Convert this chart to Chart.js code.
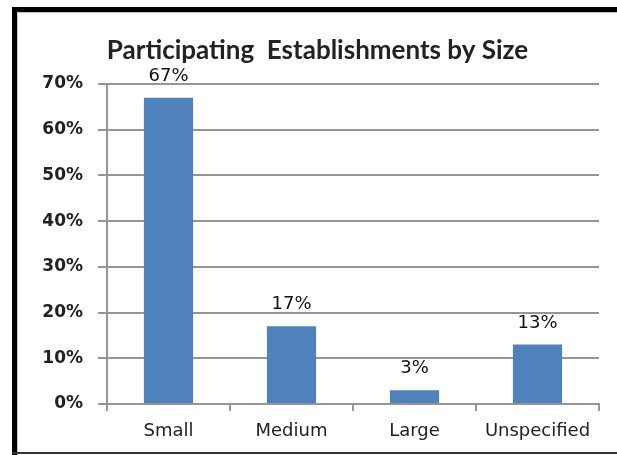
<!DOCTYPE html>
<html>
<head>
<meta charset="utf-8">
<script src="https://cdn.jsdelivr.net/npm/chart.js@4"></script>
<style>
  html, body { margin: 0; padding: 0; background: #fff; }
  #wrap { position: relative; width: 617px; height: 455px; overflow: hidden; }
  #myChart { position: absolute; left: 0; top: 0; }
  .edge { position: absolute; }
</style>
</head>
<body>
<div id="wrap">
  <canvas id="myChart" width="617" height="455"></canvas>
  <!-- frame around the chart -->
  <div class="edge" style="left:12px; top:7px; width:605px; height:5px; background:#000;"></div>
  <div class="edge" style="left:12px; top:7px; width:5px; height:448px; background:#000;"></div>
  <div class="edge" style="left:17px; top:12px; width:1px; height:443px; background:#c8c8c8;"></div>
  <div class="edge" style="left:17px; top:12px; width:600px; height:1px; background:#c8c8c8;"></div>
  <div class="edge" style="left:12px; top:452px; width:605px; height:2px; background:#333;"></div>
</div>
<script>
const sizes = ['Small', 'Medium', 'Large', 'Unspecified'];
const shares = [67, 17, 3, 13];          // percent of establishments
const yTicks = [0, 10, 20, 30, 40, 50, 60, 70];

const ctx = document.getElementById('myChart');
const gridGray = '#959595';

// writes the percentage above each bar
const barLabels = {
    id: 'barLabels',
    afterDatasetsDraw(chart) {
        const c = chart.ctx;
        const meta = chart.getDatasetMeta(0);
        c.save();
        c.font = '500 18px "DejaVu Sans"';
        c.fillStyle = '#111';
        c.textAlign = 'center';
        c.textBaseline = 'alphabetic';
        meta.data.forEach((bar, i) => {
            c.fillText(shares[i] + '%', bar.x, bar.y - 17);
        });
        c.restore();
    }
};

new Chart(ctx, {
    type: 'bar',
    data: {
        labels: sizes,
        datasets: [{
            data: shares,
            backgroundColor: '#4F81BD',
            borderWidth: 0,
            categoryPercentage: 1,
            barPercentage: 0.4
        }]
    },
    options: {
        responsive: false,
        animation: false,
        layout: { padding: { left: 36, right: 18, top: 0, bottom: 0 } },
        plugins: {
            legend: { display: false },
            tooltip: { enabled: false },
            title: {
                display: true,
                text: 'Participating  Establishments by Size',
                color: '#222',
                font: { family: 'Lato', size: 26, weight: 'bold' },
                padding: { top: 35, bottom: 17.8 }
            }
        },
        scales: {
            x: {
                afterFit(scale) { scale.height = 51; },
                grid: {
                    drawOnChartArea: false,
                    drawTicks: true,
                    tickLength: 7,
                    color: gridGray,
                    lineWidth: 2
                },
                border: { display: true, color: gridGray, width: 2 },
                ticks: {
                    color: '#222',
                    padding: 10,
                    font: { family: 'DejaVu Sans', size: 18 }
                }
            },
            y: {
                min: 0,
                max: 70,
                afterFit(scale) { scale.width = 71; },
                afterBuildTicks(scale) {
                    scale.ticks = yTicks.map(v => ({ value: v }));
                },
                grid: {
                    color: gridGray,
                    lineWidth: 2,
                    tickLength: 9
                },
                border: { display: true, color: gridGray, width: 2 },
                ticks: {
                    color: '#222',
                    padding: 15,
                    font: { family: 'DejaVu Sans', size: 17, weight: 'bold' },
                    callback: v => v + '%'
                }
            }
        }
    },
    plugins: [barLabels]
});
</script>
</body>
</html>
